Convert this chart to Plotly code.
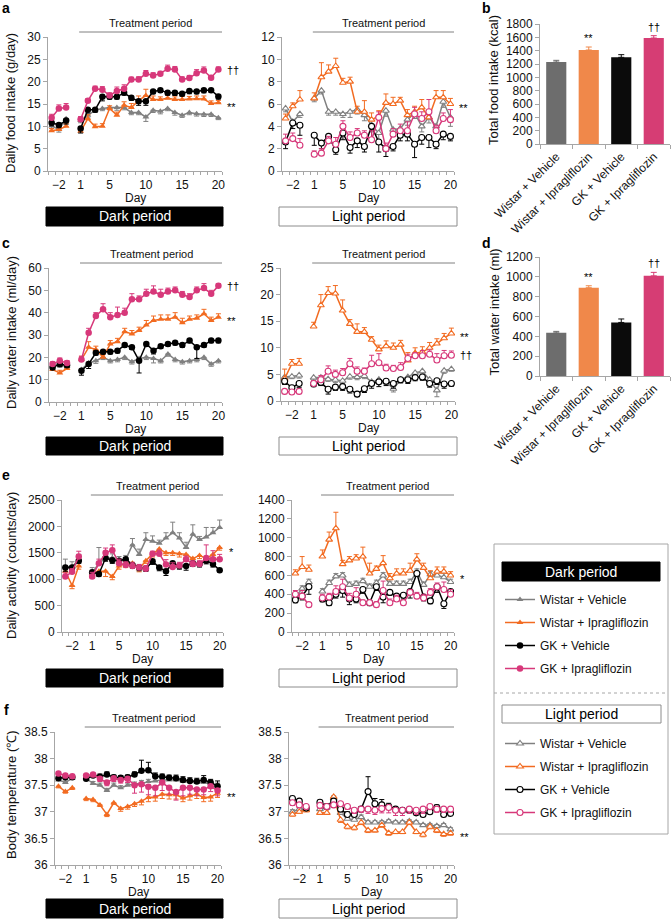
import plotly.graph_objects as go

W, H = 672, 920
FONT = "Liberation Sans, Arial, sans-serif"

# ---------------- data ----------------
DAYS = [-3, -2, -1, 1, 2, 3, 4, 5, 6, 7, 8, 9, 10, 11, 12, 13, 14, 15, 16, 17, 18, 19, 20]
DAY_TICKS = [-2, 1, 5, 10, 15, 20]
GROUPS = ["Wistar + Vehicle", "Wistar + Ipragliflozin", "GK + Vehicle", "GK + Ipragliflozin"]

# a: daily food intake (g/day)
fd_wv = [10.1, 9.3, 11.7, 11.3, 12.5, 13.6, 14.0, 14.2, 14.2, 14.2, 13.1, 13.1, 12.1, 13.6, 13.4, 14.0, 13.1, 12.5, 13.1, 12.8, 12.7, 12.7, 11.9]
fd_wi = [9.0, 9.3, 10.0, 8.9, 11.7, 9.9, 10.0, 14.0, 12.5, 14.7, 14.2, 15.8, 16.9, 16.0, 16.0, 16.3, 16.0, 16.0, 16.1, 16.2, 16.1, 15.1, 15.3]
fd_gv = [10.8, 10.3, 11.3, 9.5, 13.7, 13.7, 16.6, 16.6, 16.6, 17.5, 16.4, 15.6, 15.6, 17.8, 18.1, 17.5, 17.5, 17.3, 17.9, 17.8, 18.1, 18.1, 16.7]
fd_gi = [11.9, 14.0, 14.2, 11.6, 15.7, 18.4, 18.2, 16.9, 17.9, 18.4, 20.5, 20.5, 21.8, 21.4, 21.8, 22.9, 22.7, 20.5, 20.8, 21.9, 22.5, 20.9, 22.7]
fd_wv_se = [0.6, 0.6, 0.5, 0.5, 0.6, 0.5, 0.5, 0.5, 0.6, 0.5, 0.5, 0.5, 1.0, 0.5, 0.6, 0.5, 0.6, 0.5, 0.5, 0.5, 0.5, 0.5, 0.4]
fd_wi_se = [0.5, 0.5, 0.6, 0.5, 0.9, 0.6, 0.6, 0.6, 0.7, 0.8, 0.9, 1.0, 1.4, 0.8, 0.6, 0.7, 0.6, 0.7, 0.6, 0.6, 0.7, 0.6, 0.5]
fd_gv_se = [0.7, 0.6, 0.8, 1.0, 0.7, 0.5, 0.9, 0.5, 0.5, 0.5, 0.6, 0.9, 0.9, 0.5, 0.5, 0.5, 0.6, 0.5, 0.6, 0.5, 0.6, 0.5, 0.6]
fd_gi_se = [0.8, 0.8, 0.9, 0.6, 0.5, 0.6, 0.7, 0.6, 0.9, 0.9, 0.5, 0.6, 0.7, 0.6, 0.5, 0.8, 0.7, 0.6, 0.6, 0.8, 0.8, 0.5, 0.6]

fl_wv = [5.6, 4.4, 5.1, 6.5, 7.2, 5.3, 5.3, 5.1, 5.3, 5.5, 5.0, 4.1, 3.4, 5.4, 3.7, 3.8, 4.6, 5.2, 4.0, 4.8, 4.0, 6.2, 4.8]
fl_wi = [4.7, 5.8, 6.4, 6.5, 8.4, 8.9, 9.4, 7.9, 8.0, 5.3, 5.3, 4.6, 4.9, 6.1, 6.0, 6.3, 5.0, 5.3, 5.7, 4.8, 6.6, 6.6, 6.0]
fl_gv = [2.6, 4.3, 4.1, 3.2, 2.5, 3.1, 1.9, 3.4, 2.1, 2.7, 2.2, 4.0, 2.6, 2.0, 2.2, 3.2, 3.3, 2.4, 3.0, 3.0, 2.4, 3.3, 3.1]
fl_gi = [2.7, 2.9, 2.3, 1.5, 1.6, 2.7, 2.4, 4.0, 3.0, 3.4, 3.2, 2.8, 4.8, 2.0, 3.3, 3.6, 3.6, 5.1, 4.7, 5.3, 3.6, 4.7, 4.6]
fl_wv_se = [0.3, 0.3, 0.3, 0.3, 0.3, 0.3, 0.3, 0.3, 0.5, 0.4, 0.5, 0.6, 0.8, 0.5, 0.5, 0.5, 0.5, 0.5, 0.5, 0.5, 0.5, 0.5, 0.8]
fl_wi_se = [0.4, 0.3, 0.8, 0.5, 1.3, 0.6, 0.7, 0.4, 0.4, 0.5, 1.0, 0.6, 0.5, 0.8, 0.6, 0.3, 0.5, 0.5, 0.7, 0.6, 0.6, 0.6, 0.5]
fl_gv_se = [0.6, 0.5, 0.9, 0.9, 0.5, 0.5, 0.4, 0.6, 0.5, 0.6, 0.5, 1.0, 0.9, 0.7, 0.4, 0.5, 0.6, 1.2, 0.6, 0.9, 0.4, 0.5, 0.4]
fl_gi_se = [0.6, 0.5, 0.6, 0.3, 0.4, 0.4, 0.6, 0.5, 0.5, 0.4, 0.4, 0.8, 0.5, 0.5, 0.5, 0.6, 0.8, 0.6, 0.6, 1.1, 0.5, 0.5, 0.9]

# b: total food intake (kcal)
food_total = [1230, 1410, 1300, 1590]
food_total_se = [25, 45, 40, 35]

# c: daily water intake (ml/day)
wd_wv = [16.5, 16.5, 16.0, 14.5, 17.5, 18.5, 20.0, 18.5, 19.0, 20.0, 18.0, 19.5, 20.0, 19.5, 18.5, 21.5, 19.0, 18.0, 18.5, 19.0, 20.0, 17.0, 18.5]
wd_wi = [14.5, 13.0, 15.0, 19.0, 24.5, 23.5, 20.0, 26.0, 27.0, 31.5, 30.5, 32.0, 34.5, 36.5, 37.0, 37.0, 38.0, 35.5, 37.0, 37.5, 39.5, 36.5, 38.0]
wd_gv = [15.5, 17.0, 16.5, 14.0, 17.0, 22.0, 22.5, 22.5, 23.0, 25.5, 24.5, 18.5, 26.0, 23.0, 25.0, 26.0, 26.5, 25.5, 27.5, 24.5, 25.5, 27.5, 27.5]
wd_gi = [17.0, 18.5, 17.5, 19.0, 31.0, 38.5, 41.5, 38.0, 39.0, 40.0, 46.0, 46.0, 48.5, 49.5, 48.0, 49.5, 50.0, 48.0, 47.0, 50.0, 51.0, 48.5, 52.0]
wd_wv_se = [1.0, 1.0, 1.0, 1.0, 1.0, 1.2, 1.0, 1.0, 1.0, 1.0, 1.0, 1.0, 1.0, 2.0, 1.0, 1.0, 1.0, 1.0, 1.0, 1.0, 1.0, 1.0, 1.0]
wd_wi_se = [1.0, 1.2, 1.0, 1.5, 2.5, 1.5, 1.5, 1.5, 1.5, 1.5, 1.5, 1.5, 2.0, 2.0, 2.0, 2.0, 2.0, 2.0, 1.5, 1.5, 2.0, 1.5, 1.5]
wd_gv_se = [1.0, 1.0, 1.0, 2.0, 2.0, 1.0, 1.0, 1.0, 1.0, 1.0, 1.0, 5.5, 1.0, 1.5, 1.0, 1.0, 1.0, 1.0, 1.0, 5.0, 1.0, 1.0, 1.0]
wd_gi_se = [1.0, 1.2, 1.0, 1.5, 2.0, 1.5, 2.5, 2.0, 3.5, 2.0, 2.5, 1.5, 2.0, 2.5, 2.5, 1.5, 1.5, 1.5, 1.5, 1.5, 2.0, 1.5, 1.0]

wl_wv = [4.5, 4.6, 4.8, 4.4, 4.4, 4.1, 4.0, 3.8, 4.6, 4.5, 4.7, 3.6, 4.0, 3.6, 2.3, 4.0, 4.5, 5.3, 5.6, 4.0, 2.0, 5.7, 6.0]
wl_wi = [4.2, 7.0, 7.0, 14.0, 18.0, 20.3, 20.2, 17.0, 14.5, 13.0, 13.0, 11.5, 9.7, 10.3, 10.0, 10.6, 7.6, 9.0, 9.2, 10.0, 10.8, 11.8, 12.7]
wl_gv = [3.7, 2.5, 3.3, 3.2, 3.5, 2.2, 2.6, 2.7, 2.2, 1.3, 2.3, 3.3, 3.6, 3.7, 3.3, 4.0, 4.0, 4.4, 4.5, 3.3, 3.8, 3.2, 3.3]
wl_gi = [1.8, 1.7, 1.8, 3.3, 4.0, 5.6, 5.0, 5.3, 7.0, 5.6, 5.6, 7.0, 7.2, 6.2, 6.1, 6.3, 8.0, 8.5, 8.5, 8.8, 7.7, 8.5, 8.6]
wl_wv_se = [0.4, 0.4, 0.5, 0.5, 0.5, 0.4, 0.5, 0.5, 0.5, 0.5, 0.5, 0.5, 0.5, 0.5, 0.6, 0.5, 0.6, 0.7, 0.5, 0.6, 1.2, 0.5, 0.4]
wl_wi_se = [1.8, 0.8, 1.0, 0.8, 2.0, 1.2, 1.5, 2.0, 0.8, 1.5, 0.8, 0.6, 0.8, 1.0, 0.9, 0.8, 1.5, 1.0, 1.0, 1.0, 0.9, 0.9, 1.0]
wl_gv_se = [0.6, 0.7, 0.8, 0.5, 0.6, 0.9, 0.6, 0.7, 0.7, 0.5, 0.7, 0.9, 0.9, 0.8, 0.9, 0.6, 0.7, 0.6, 0.6, 0.7, 0.7, 0.8, 0.5]
wl_gi_se = [0.3, 0.3, 0.3, 0.5, 0.8, 1.0, 0.8, 0.8, 1.0, 0.8, 0.6, 1.6, 1.7, 0.7, 0.6, 0.9, 0.8, 0.6, 1.0, 0.8, 1.2, 1.0, 0.8]

# d: total water intake (ml)
water_total = [435, 890, 540, 1010]
water_total_se = [15, 20, 35, 35]

# e: daily activity (counts/day)
ad_wv = [1230, 1230, 1370, 1120, 1300, 1400, 1400, 1350, 1370, 1650, 1470, 1750, 1720, 1680, 1780, 1880, 1780, 1600, 1850, 1750, 1800, 1880, 1980]
ad_wi = [1150, 880, 1250, 1100, 1150, 1150, 1050, 1250, 1300, 1300, 1200, 1350, 1480, 1570, 1500, 1500, 1480, 1470, 1390, 1450, 1390, 1470, 1600]
ad_gv = [1220, 1220, 1350, 1130, 1100, 1400, 1360, 1350, 1380, 1270, 1220, 1200, 1340, 1220, 1150, 1300, 1250, 1250, 1300, 1290, 1350, 1290, 1170]
ad_gi = [1050, 1140, 1430, 1050, 1300, 1500, 1550, 1300, 1270, 1250, 1220, 1200, 1480, 1480, 1280, 1230, 1260, 1380, 1290, 1290, 1400, 1380, 1380]
ad_wv_se = [150, 100, 100, 100, 300, 100, 80, 80, 80, 120, 100, 130, 100, 60, 100, 200, 100, 100, 180, 60, 180, 100, 140]
ad_wi_se = [80, 60, 60, 80, 80, 100, 60, 60, 80, 60, 60, 50, 60, 60, 50, 50, 60, 60, 60, 60, 50, 60, 50]
ad_gv_se = [70, 70, 50, 100, 50, 60, 60, 60, 50, 60, 60, 50, 60, 60, 80, 60, 60, 80, 60, 60, 60, 60, 30]
ad_gi_se = [70, 60, 100, 80, 80, 90, 100, 80, 60, 70, 60, 60, 50, 70, 90, 80, 60, 60, 60, 60, 250, 160, 90]

al_wv = [370, 460, 530, 430, 520, 590, 600, 500, 510, 540, 480, 520, 600, 510, 510, 510, 530, 640, 500, 610, 600, 580, 530]
al_wi = [620, 690, 660, 800, 980, 1100, 720, 760, 780, 800, 620, 670, 730, 570, 620, 620, 650, 770, 680, 570, 640, 640, 600]
al_gv = [340, 380, 480, 350, 310, 400, 440, 350, 350, 450, 310, 480, 370, 420, 380, 390, 430, 620, 370, 330, 480, 300, 430]
al_gi = [400, 380, 290, 360, 370, 430, 480, 360, 400, 310, 310, 290, 440, 310, 350, 310, 420, 380, 360, 420, 480, 450, 400]
al_wv_se = [40, 30, 30, 30, 30, 30, 30, 30, 30, 30, 30, 30, 30, 30, 30, 30, 30, 30, 30, 30, 30, 40, 30]
al_wi_se = [40, 110, 50, 70, 80, 170, 40, 40, 40, 100, 110, 30, 80, 50, 50, 50, 80, 60, 50, 80, 50, 50, 40]
al_gv_se = [30, 40, 80, 30, 30, 40, 70, 60, 40, 40, 30, 40, 60, 30, 40, 40, 70, 30, 40, 30, 60, 50, 30]
al_gi_se = [40, 60, 20, 40, 40, 60, 80, 50, 70, 30, 30, 30, 100, 40, 40, 30, 30, 40, 40, 40, 40, 80, 50]

# f: body temperature (deg C)
td_wv = [37.60, 37.55, 37.63, 37.63, 37.53, 37.50, 37.40, 37.50, 37.45, 37.50, 37.52, 37.55, 37.57, 37.58, 37.60, 37.60, 37.60, 37.57, 37.57, 37.55, 37.55, 37.53, 37.50]
td_wi = [37.48, 37.38, 37.45, 37.25, 37.23, 37.13, 36.95, 37.17, 37.06, 37.10, 37.15, 37.20, 37.27, 37.28, 37.33, 37.32, 37.32, 37.26, 37.30, 37.33, 37.27, 37.28, 37.35]
td_gv = [37.63, 37.65, 37.65, 37.62, 37.68, 37.66, 37.70, 37.65, 37.64, 37.65, 37.70, 37.77, 37.78, 37.67, 37.66, 37.64, 37.63, 37.60, 37.58, 37.57, 37.60, 37.55, 37.48]
td_gi = [37.72, 37.68, 37.67, 37.68, 37.70, 37.62, 37.55, 37.63, 37.60, 37.62, 37.50, 37.52, 37.47, 37.45, 37.55, 37.45, 37.37, 37.45, 37.45, 37.42, 37.42, 37.48, 37.40]
td_wv_se = [0.03, 0.03, 0.03, 0.03, 0.04, 0.04, 0.04, 0.04, 0.04, 0.04, 0.04, 0.04, 0.04, 0.04, 0.04, 0.04, 0.04, 0.04, 0.04, 0.04, 0.04, 0.04, 0.04]
td_wi_se = [0.03, 0.03, 0.03, 0.04, 0.04, 0.03, 0.04, 0.03, 0.05, 0.05, 0.05, 0.07, 0.08, 0.08, 0.08, 0.08, 0.08, 0.07, 0.08, 0.08, 0.08, 0.08, 0.08]
td_gv_se = [0.04, 0.04, 0.04, 0.03, 0.03, 0.05, 0.05, 0.04, 0.04, 0.04, 0.05, 0.20, 0.15, 0.06, 0.05, 0.05, 0.06, 0.06, 0.06, 0.06, 0.08, 0.06, 0.10]
td_gi_se = [0.04, 0.04, 0.04, 0.03, 0.04, 0.05, 0.06, 0.06, 0.06, 0.07, 0.15, 0.15, 0.15, 0.15, 0.15, 0.12, 0.15, 0.15, 0.12, 0.12, 0.10, 0.10, 0.10]

tl_wv = [37.00, 37.05, 37.05, 37.05, 37.08, 37.25, 36.98, 36.87, 36.85, 36.90, 36.80, 36.80, 36.80, 36.82, 36.80, 36.80, 36.82, 36.80, 36.75, 36.75, 36.73, 36.75, 36.67]
tl_wi = [36.95, 37.00, 37.03, 36.98, 36.98, 37.28, 36.85, 36.72, 36.70, 36.80, 36.65, 36.65, 36.75, 36.60, 36.62, 36.62, 36.80, 36.62, 36.57, 36.72, 36.65, 36.58, 36.60]
tl_gv = [37.25, 37.20, 37.07, 37.18, 37.10, 37.20, 37.05, 36.95, 36.95, 37.05, 37.38, 37.15, 37.13, 37.10, 37.05, 37.03, 37.03, 36.98, 36.95, 37.00, 37.08, 36.95, 36.97]
tl_gi = [37.17, 37.13, 37.10, 37.12, 37.10, 37.13, 37.15, 37.10, 37.03, 37.05, 37.05, 37.03, 37.06, 37.08, 37.03, 37.03, 37.05, 37.03, 37.05, 37.10, 37.05, 37.05, 37.05]
tl_wv_se = [0.04, 0.03, 0.03, 0.03, 0.03, 0.05, 0.04, 0.03, 0.03, 0.04, 0.03, 0.03, 0.03, 0.03, 0.03, 0.03, 0.03, 0.03, 0.03, 0.03, 0.03, 0.03, 0.03]
tl_wi_se = [0.03, 0.03, 0.03, 0.03, 0.03, 0.05, 0.05, 0.04, 0.04, 0.04, 0.04, 0.03, 0.04, 0.04, 0.03, 0.03, 0.04, 0.03, 0.04, 0.04, 0.04, 0.04, 0.04]
tl_gv_se = [0.04, 0.04, 0.04, 0.04, 0.05, 0.05, 0.05, 0.05, 0.05, 0.05, 0.28, 0.10, 0.10, 0.06, 0.05, 0.05, 0.05, 0.05, 0.05, 0.05, 0.05, 0.05, 0.05]
tl_gi_se = [0.05, 0.05, 0.05, 0.05, 0.05, 0.05, 0.05, 0.05, 0.06, 0.06, 0.08, 0.08, 0.08, 0.10, 0.10, 0.10, 0.08, 0.08, 0.08, 0.06, 0.06, 0.06, 0.06]

# ---------------- style ----------------
LINE_COLORS = ["#808080", "#f26b21", "#000000", "#d7387a"]
BAR_COLORS = ["#6d6d6d", "#f0884a", "#0b0b0b", "#d63d74"]
SYMBOLS = ["triangle-up", "triangle-up", "circle", "circle"]
AXIS_COLOR = "#a6a6a6"
TEXT_COLOR = "#111111"


def fx(p):
    return p / W


def fy(p):
    return 1 - p / H


def with_gap(vals, fill):
    return list(vals[:3]) + [fill] + list(vals[3:])


X_GAP = with_gap(DAYS, None)

fig = go.Figure()
annotations = []
shapes = []


def ax_names(i):
    return ("x" if i == 1 else f"x{i}"), ("y" if i == 1 else f"y{i}")


def layout_key(axname):
    return axname[0] + "axis" + axname[1:]


LINE_PANELS = [
    dict(i=1, xd=(48, 222), yd=(37, 171), yr=(0, 30), dt=5,
         s=[fd_wv, fd_wi, fd_gv, fd_gi], e=[fd_wv_se, fd_wi_se, fd_gv_se, fd_gi_se],
         d=["down", "up", "down", "up"], p="dark", leg="legend",
         ends=[("††", 3), ("**", 1)]),
    dict(i=2, xd=(282, 454), yd=(37, 171), yr=(0, 12), dt=2,
         s=[fl_wv, fl_wi, fl_gv, fl_gi], e=[fl_wv_se, fl_wi_se, fl_gv_se, fl_gi_se],
         d=["down", "up", "down", "up"], p="light", leg="legend2",
         ends=[("**", 1)]),
    dict(i=4, xd=(49, 222), yd=(268, 402), yr=(0, 60), dt=10,
         s=[wd_wv, wd_wi, wd_gv, wd_gi], e=[wd_wv_se, wd_wi_se, wd_gv_se, wd_gi_se],
         d=["down", "up", "down", "up"], p="dark", leg=None,
         ends=[("††", 3), ("**", 1)]),
    dict(i=5, xd=(281, 455), yd=(268, 401), yr=(0, 25), dt=5,
         s=[wl_wv, wl_wi, wl_gv, wl_gi], e=[wl_wv_se, wl_wi_se, wl_gv_se, wl_gi_se],
         d=["down", "up", "down", "up"], p="light", leg=None,
         ends=[("**", 1), ("††", 3)]),
    dict(i=7, xd=(62, 223), yd=(500, 632), yr=(0, 2500), dt=500,
         s=[ad_wv, ad_wi, ad_gv, ad_gi], e=[ad_wv_se, ad_wi_se, ad_gv_se, ad_gi_se],
         d=["up", "down", "down", "up"], p="dark", leg=None,
         ends=[("*", 1)]),
    dict(i=8, xd=(292, 454), yd=(500, 632), yr=(0, 1400), dt=200,
         s=[al_wv, al_wi, al_gv, al_gi], e=[al_wv_se, al_wi_se, al_gv_se, al_gi_se],
         d=["up", "up", "down", "up"], p="light", leg=None,
         ends=[("*", 1)]),
    dict(i=9, xd=(55, 221), yd=(732, 865), yr=(36, 38.5), dt=0.5,
         s=[td_wv, td_wi, td_gv, td_gi], e=[td_wv_se, td_wi_se, td_gv_se, td_gi_se],
         d=["up", "down", "up", "down"], p="dark", leg=None,
         ends=[("**", 1)]),
    dict(i=10, xd=(289, 454), yd=(732, 865), yr=(36, 38.5), dt=0.5,
         s=[tl_wv, tl_wi, tl_gv, tl_gi], e=[tl_wv_se, tl_wi_se, tl_gv_se, tl_gi_se],
         d=["up", "down", "up", "down"], p="light", leg=None,
         ends=[("**", 1)]),
]

layout_axes = {}

for P in LINE_PANELS:
    xa, ya = ax_names(P["i"])
    for k in range(4):
        yv = with_gap(P["s"][k], None)
        ev = with_gap(P["e"][k], 0)
        zeros = [0] * len(ev)
        up = P["d"][k] == "up"
        if P["p"] == "dark":
            marker = dict(symbol=SYMBOLS[k], color=LINE_COLORS[k],
                          size=6 if k < 2 else 6.5, line=dict(width=0))
        else:
            marker = dict(symbol=SYMBOLS[k], color="white", size=6,
                          line=dict(color=LINE_COLORS[k], width=1.1))
        fig.add_trace(go.Scatter(
            x=X_GAP, y=yv, mode="lines+markers", name=GROUPS[k],
            line=dict(color=LINE_COLORS[k], width=1.5), marker=marker,
            error_y=dict(type="data", symmetric=False,
                         array=ev if up else zeros, arrayminus=zeros if up else ev,
                         color=LINE_COLORS[k], thickness=1, width=2.5),
            xaxis=xa, yaxis=ya, connectgaps=False,
            showlegend=P["leg"] is not None,
            legend=P["leg"] if P["leg"] else "legend",
            legendgroup=P["p"] + str(k),
        ))
    layout_axes[layout_key(xa)] = dict(
        domain=[fx(P["xd"][0]), fx(P["xd"][1])], anchor=ya,
        range=[-3.5, 20.5], tickmode="array", tickvals=DAY_TICKS,
        ticks="outside", ticklen=3, tickcolor="rgba(0,0,0,0)",
        showline=True, linecolor=AXIS_COLOR, linewidth=1,
        showgrid=False, zeroline=False, fixedrange=True, automargin=False,
        tickfont=dict(size=12, color=TEXT_COLOR, family=FONT),
        minor=dict(tick0=-3.5, dtick=1, ticks="outside", ticklen=3,
                   tickcolor=AXIS_COLOR, showgrid=False),
    )
    layout_axes[layout_key(ya)] = dict(
        domain=[fy(P["yd"][1]), fy(P["yd"][0])], anchor=xa,
        range=list(P["yr"]), dtick=P["dt"], tick0=P["yr"][0],
        ticks="outside", ticklen=4, tickcolor=AXIS_COLOR,
        showline=True, linecolor=AXIS_COLOR, linewidth=1,
        showgrid=False, zeroline=False, fixedrange=True, automargin=False,
        tickfont=dict(size=12, color=TEXT_COLOR, family=FONT),
    )
    for txt, k in P["ends"]:
        annotations.append(dict(
            x=DAYS[-1], y=P["s"][k][-1], xref=xa, yref=ya, text=txt,
            showarrow=False, xanchor="left", yanchor="middle",
            xshift=7, yshift=-4 if "*" in txt else 0,
            font=dict(size=11, color="#000000", family=FONT)))
    top_px = P["yd"][0]
    line_px = top_px - 5
    shapes.append(dict(type="line", xref=xa, yref="paper", x0=0.8, x1=20.5,
                       y0=fy(line_px), y1=fy(line_px),
                       line=dict(color="#808080", width=1)))
    annotations.append(dict(x=10.7, y=fy(line_px - 1), xref=xa, yref="paper",
                            text="Treatment period", showarrow=False,
                            yanchor="bottom", xanchor="center",
                            font=dict(size=11, color=TEXT_COLOR, family=FONT)))
    annotations.append(dict(x=(P["xd"][0] + P["xd"][1]) / 2 / W, y=fy(P["yd"][1] + 27),
                            xref="paper", yref="paper", text="Day", showarrow=False,
                            yanchor="middle", xanchor="center",
                            font=dict(size=12, color=TEXT_COLOR, family=FONT)))

BAR_PANELS = [
    dict(i=3, xd=(540, 670), yd=(24, 144), yr=(0, 1800), dt=200,
         v=food_total, e=food_total_se, title="Total food intake (kcal)"),
    dict(i=6, xd=(540, 670), yd=(257, 376), yr=(0, 1200), dt=200,
         v=water_total, e=water_total_se, title="Total water intake (ml)"),
]
BAR_MARKS = [(1, "**"), (3, "††")]
for P in BAR_PANELS:
    xa, ya = ax_names(P["i"])
    for k in range(4):
        fig.add_trace(go.Bar(
            x=[GROUPS[k]], y=[P["v"][k]], width=0.62, showlegend=False,
            marker=dict(color=BAR_COLORS[k], line=dict(width=0)),
            error_y=dict(type="data", symmetric=False, array=[P["e"][k]],
                         arrayminus=[0], color=BAR_COLORS[k], thickness=1, width=3),
            xaxis=xa, yaxis=ya))
    layout_axes[layout_key(xa)] = dict(
        domain=[fx(P["xd"][0]), fx(P["xd"][1])], anchor=ya, type="category",
        categoryorder="array", categoryarray=GROUPS,
        tickangle=-45, ticks="outside", tickson="boundaries", ticklen=4,
        tickcolor=AXIS_COLOR, showline=True, linecolor=AXIS_COLOR, linewidth=1,
        showgrid=False, zeroline=False, fixedrange=True, automargin=False,
        tickfont=dict(size=12, color=TEXT_COLOR, family=FONT))
    layout_axes[layout_key(ya)] = dict(
        domain=[fy(P["yd"][1]), fy(P["yd"][0])], anchor=xa,
        range=list(P["yr"]), dtick=P["dt"], ticks="outside", ticklen=4,
        tickcolor=AXIS_COLOR, showline=True, linecolor=AXIS_COLOR, linewidth=1,
        showgrid=False, zeroline=False, fixedrange=True, automargin=False,
        tickfont=dict(size=12, color=TEXT_COLOR, family=FONT))
    for k, txt in BAR_MARKS:
        annotations.append(dict(
            x=GROUPS[k], y=P["v"][k] + P["e"][k], xref=xa, yref=ya, text=txt,
            showarrow=False, yanchor="bottom", yshift=1,
            font=dict(size=11, color="#000000", family=FONT)))
    annotations.append(dict(
        x=fx(494), y=fy((P["yd"][0] + P["yd"][1]) / 2 - 4), xref="paper", yref="paper",
        text=P["title"], textangle=-90, showarrow=False, xanchor="center", yanchor="middle",
        font=dict(size=13, color=TEXT_COLOR, family=FONT)))

for txt, cy in [("Daily food intake (g/day)", 103), ("Daily water intake (ml/day)", 333),
                ("Daily activity (counts/day)", 566), ("Body temperature (℃)", 795)]:
    annotations.append(dict(x=fx(11), y=fy(cy), xref="paper", yref="paper", text=txt,
                            textangle=-90, showarrow=False, xanchor="center", yanchor="middle",
                            font=dict(size=13, color=TEXT_COLOR, family=FONT)))

for letter, lx, ly in [("a", 6, 8), ("b", 486, 8), ("c", 6, 243), ("d", 486, 243),
                       ("e", 6, 475), ("f", 6, 710)]:
    annotations.append(dict(x=fx(lx), y=fy(ly), xref="paper", yref="paper", text=f"<b>{letter}</b>",
                            showarrow=False, xanchor="center", yanchor="middle",
                            font=dict(size=14, color="#000000", family=FONT)))


def period_box(x0, x1, y0, y1, dark, size=14):
    shapes.append(dict(type="rect", xref="paper", yref="paper",
                       x0=fx(x0), x1=fx(x1), y0=fy(y1), y1=fy(y0),
                       fillcolor="#000000" if dark else "#ffffff",
                       line=dict(color="#000000" if dark else "#8c8c8c", width=1)))
    annotations.append(dict(x=fx((x0 + x1) / 2), y=fy((y0 + y1) / 2), xref="paper", yref="paper",
                            text="Dark period" if dark else "Light period", showarrow=False,
                            xanchor="center", yanchor="middle",
                            font=dict(size=size, color="#ffffff" if dark else "#000000", family=FONT)))


for y0, y1 in [(207, 226), (437, 455), (669, 687), (899, 918)]:
    period_box(46, 223, y0, y1, True)
    period_box(279, 457, y0, y1, False)

shapes.append(dict(type="rect", xref="paper", yref="paper", x0=fx(494), x1=fx(668),
                   y0=fy(834), y1=fy(544), line=dict(color="#a6a6a6", width=1)))
shapes.append(dict(type="line", xref="paper", yref="paper", x0=fx(494), x1=fx(668),
                   y0=fy(693), y1=fy(693), line=dict(color="#a6a6a6", width=1, dash="dot")))
period_box(502, 660, 562, 581, True)
period_box(502, 661, 705, 723, False)

legend_common = dict(xanchor="left", yanchor="top", bgcolor="rgba(0,0,0,0)",
                     font=dict(size=12, color=TEXT_COLOR, family=FONT),
                     tracegroupgap=4, itemwidth=30, traceorder="grouped",
                     itemclick=False, itemdoubleclick=False)

fig.update_layout(
    width=W, height=H, autosize=False,
    margin=dict(l=0, r=0, t=0, b=0, pad=0, autoexpand=False),
    paper_bgcolor="white", plot_bgcolor="white",
    font=dict(family=FONT, size=12, color=TEXT_COLOR),
    barmode="overlay",
    annotations=annotations, shapes=shapes,
    legend=dict(x=fx(500), y=fy(585), **legend_common),
    legend2=dict(x=fx(500), y=fy(729), **legend_common),
    **layout_axes,
)

fig.write_html(
    "out.html",
    config={"displayModeBar": False},
    post_script="document.body.style.margin='0';document.body.style.padding='0';"
                "document.body.style.overflow='hidden';",
)
